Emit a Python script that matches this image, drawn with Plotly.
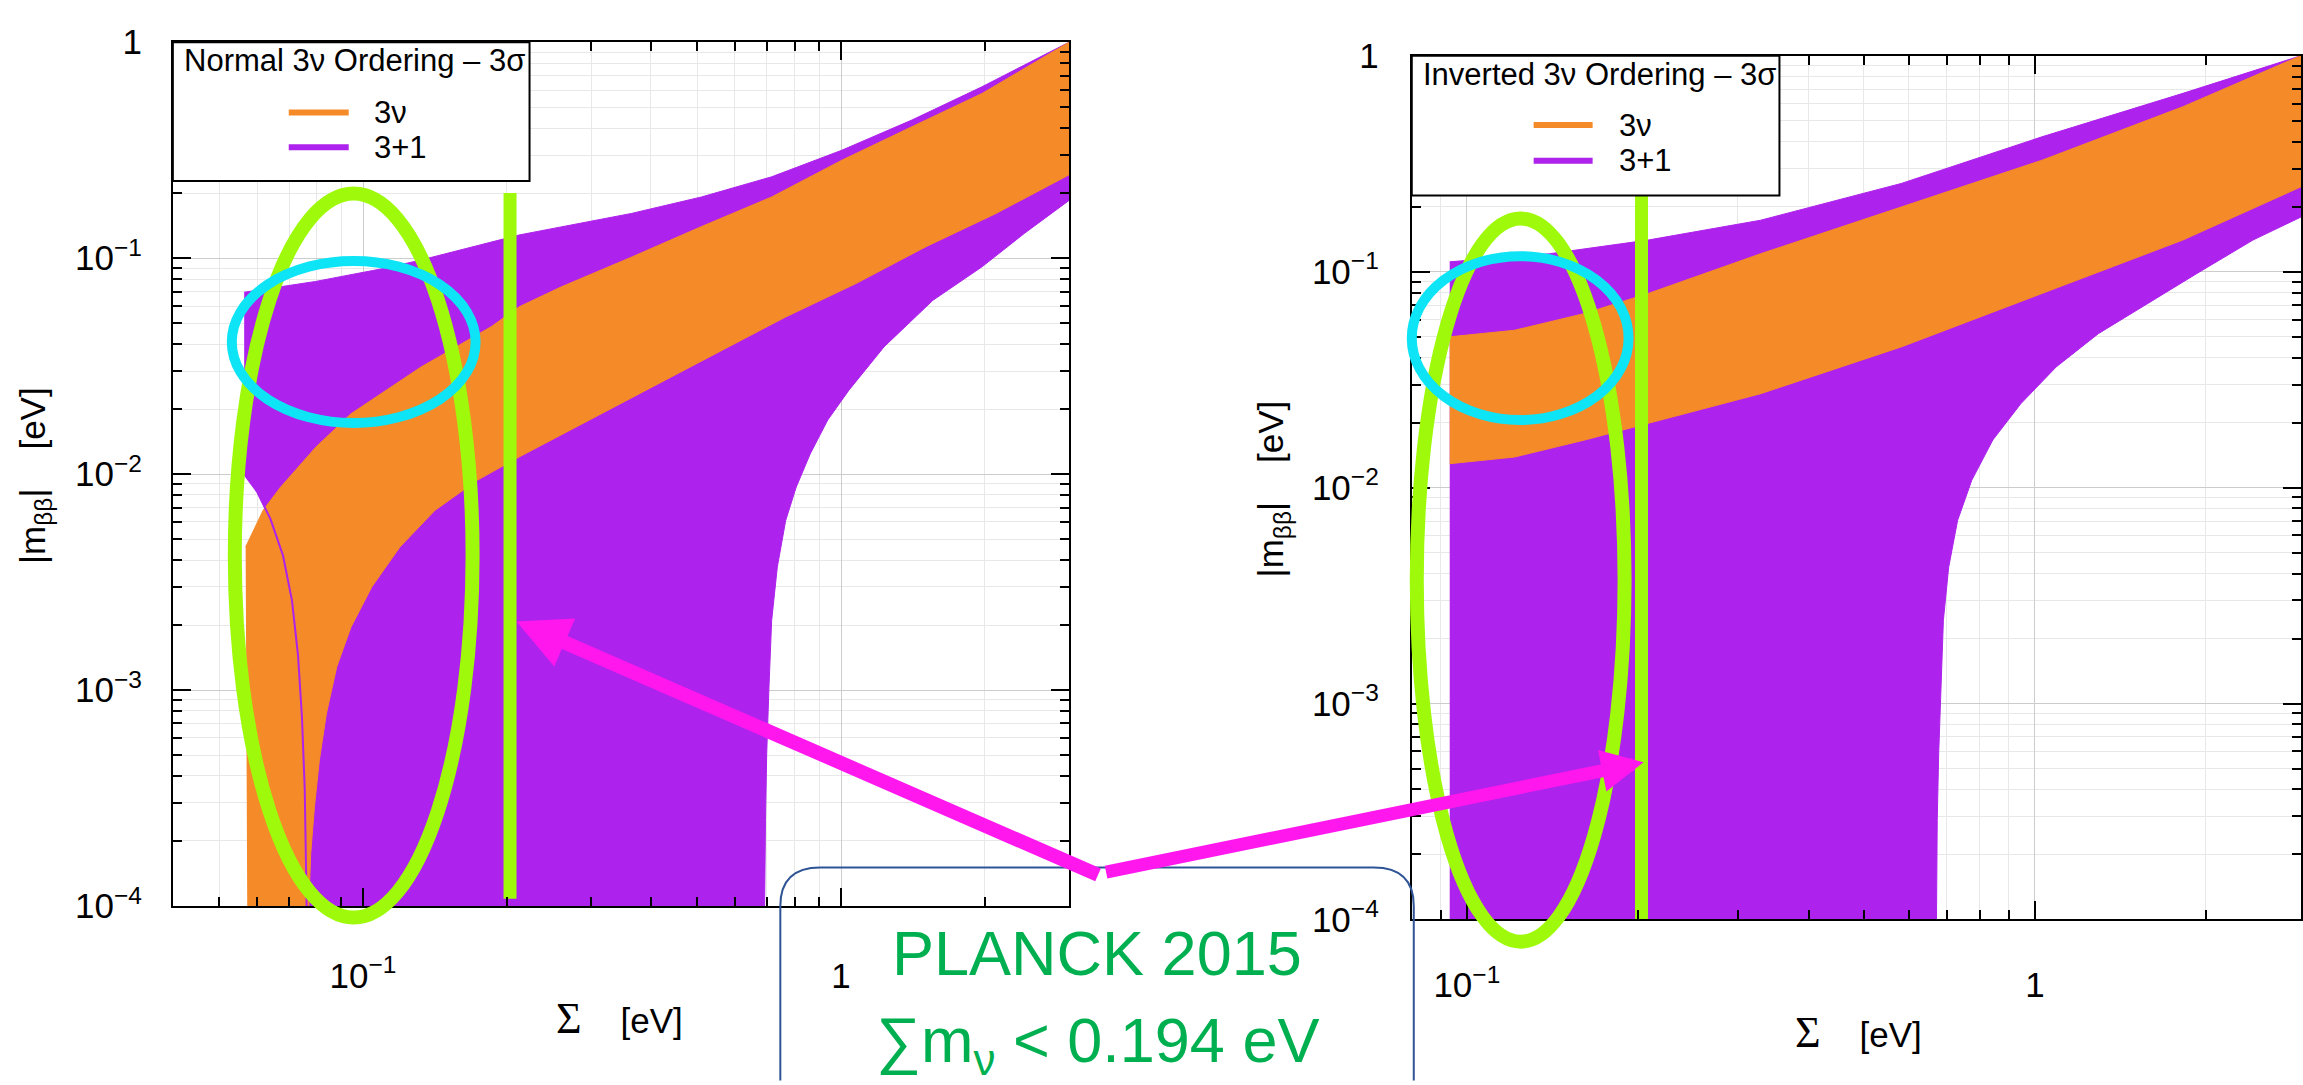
import math
import plotly.graph_objects as go

W, H = 2303, 1085

# ---------------- data ----------------
# Left panel: Normal 3nu ordering (Sigma [eV], |m_bb| [eV])
no_3p1_top_x = [0.0564, 0.0796, 0.1116, 0.1322, 0.2121, 0.3642, 0.5107, 0.716, 1.004, 1.407, 1.973, 3.0]
no_3p1_top_y = [0.0695, 0.078, 0.090, 0.098, 0.128, 0.161, 0.192, 0.238, 0.316, 0.436, 0.622, 1.0]
no_3p1_low_x = [0.692, 0.695, 0.699, 0.7067, 0.716, 0.7357, 0.766, 0.806, 0.862, 0.938, 1.038,
                1.23, 1.557, 1.973, 2.417, 3.0]
no_3p1_low_y = [1e-4, 2.49e-4, 5.06e-4, 1.03e-3, 2.1e-3, 3.71e-3, 0.0061, 0.00871, 0.0124, 0.0178, 0.0244,
                0.0388, 0.0638, 0.0912, 0.130, 0.185]
no_3p1_cut_x = [0.0564, 0.0600, 0.0640, 0.0680, 0.0710, 0.0731, 0.0745, 0.0755, 0.0762]
no_3p1_cut_y = [0.0100, 0.0083, 0.0062, 0.0042, 0.0026, 0.00145, 0.00075, 0.00035, 1e-4]

no_3nu_up_x = [0.0568, 0.0618, 0.0672, 0.0796, 0.0943, 0.1116, 0.1322, 0.1565, 0.1853, 0.2121,
               0.2599, 0.3642, 0.5107, 0.7161, 1.004, 1.407, 1.973, 3.0]
no_3nu_up_y = [0.00459, 0.0068, 0.0087, 0.0133, 0.019, 0.0244, 0.0313, 0.0388, 0.0481, 0.0595,
               0.0736, 0.101, 0.140, 0.192, 0.284, 0.406, 0.579, 1.0]
no_3nu_low_x = [0.0770, 0.0777, 0.0791, 0.0810, 0.0838, 0.0881, 0.0943, 0.1043, 0.1194, 0.1414, 0.1732,
                0.2121, 0.278, 0.3897, 0.5463, 0.766, 1.074, 1.506, 2.11, 3.0]
no_3nu_low_y = [1e-4, 1.74e-4, 2.86e-4, 4.71e-4, 7.76e-4, 1.28e-3, 1.95e-3, 3.0e-3, 0.00459, 0.00679, 0.00935,
                0.0120, 0.0165, 0.0244, 0.0361, 0.0534, 0.0762, 0.113, 0.161, 0.243]
no_3nu_left_x = 0.0575

# Right panel: Inverted 3nu ordering
io_3p1_top_x = [0.0933, 0.1398, 0.2085, 0.329, 0.5817, 1.029, 1.821, 2.94]
io_3p1_top_y = [0.111, 0.121, 0.140, 0.173, 0.256, 0.421, 0.669, 1.0]
io_3p1_low_x = [0.671, 0.673, 0.677, 0.6825, 0.690, 0.705, 0.731, 0.774, 0.843, 0.945, 1.090,
                1.293, 1.579, 1.928, 2.42, 2.94]
io_3p1_low_y = [1e-4, 2.87e-4, 5.85e-4, 1.19e-3, 2.43e-3, 4.28e-3, 7.05e-3, 0.0108, 0.0166, 0.0245, 0.0362,
                0.0516, 0.0711, 0.098, 0.140, 0.179]
io_3nu_x = [0.0933, 0.1213, 0.1612, 0.2085, 0.329, 0.5817, 1.029, 1.821, 2.94]
io_3nu_up_y = [0.0499, 0.0535, 0.064, 0.0792, 0.121, 0.1995, 0.328, 0.58, 1.0]
io_3nu_low_y = [0.0129, 0.01385, 0.0166, 0.0198, 0.0272, 0.0448, 0.0792, 0.140, 0.247]

# Planck 2015 limit line (as drawn)
planck_sigma = 0.203
planck_left_y = [0.20, 1.08e-4]
planck_right_y = [0.23, 1e-4]

# axis ticks
x_major = [0.1, 1]
x_major_text = ["10<sup>\u22121</sup>", "1"]
y_major = [1e-4, 1e-3, 1e-2, 1e-1, 1]
y_major_text = ["10<sup>\u22124</sup>", "10<sup>\u22123</sup>", "10<sup>\u22122</sup>", "10<sup>\u22121</sup>", "1"]

FLOOR = 1e-5
ORANGE = "#F58A28"
PURPLE = "#AD22EC"
LIME = "#9EFA0A"
CYAN = "#0DE4F5"
MAGENTA = "#FF17EE"
GREEN_TXT = "#00B050"
FONT = "Liberation Sans, Arial, sans-serif"

# ---------------- polygons ----------------
no_p_x = no_3p1_top_x + no_3p1_low_x[::-1] + [no_3p1_low_x[0], no_3p1_cut_x[-1]] + no_3p1_cut_x[::-1]
no_p_y = no_3p1_top_y + no_3p1_low_y[::-1] + [FLOOR, FLOOR] + no_3p1_cut_y[::-1]
no_o_x = no_3nu_up_x + no_3nu_low_x[::-1] + [no_3nu_low_x[0], no_3nu_left_x]
no_o_y = no_3nu_up_y + no_3nu_low_y[::-1] + [FLOOR, FLOOR]

io_p_x = io_3p1_top_x + io_3p1_low_x[::-1] + [io_3p1_low_x[0], io_3p1_top_x[0]]
io_p_y = io_3p1_top_y + io_3p1_low_y[::-1] + [FLOOR, FLOOR]
io_o_x = io_3nu_x + io_3nu_x[::-1]
io_o_y = io_3nu_up_y + io_3nu_low_y[::-1]

fig = go.Figure()


def band(x, y, color, xa, ya, name):
    fig.add_trace(go.Scatter(x=x, y=y, fill="toself", fillcolor=color, mode="lines",
                             line=dict(color=color, width=1), xaxis=xa, yaxis=ya,
                             name=name, showlegend=False, hoverinfo="skip"))


band(no_p_x, no_p_y, PURPLE, "x", "y", "3+1")
band(no_o_x, no_o_y, ORANGE, "x", "y", "3\u03bd")
fig.add_trace(go.Scatter(x=no_3p1_cut_x, y=no_3p1_cut_y, mode="lines", line=dict(color=PURPLE, width=2),
                         xaxis="x", yaxis="y", showlegend=False, hoverinfo="skip"))
band(io_p_x, io_p_y, PURPLE, "x2", "y2", "3+1")
band(io_o_x, io_o_y, ORANGE, "x2", "y2", "3\u03bd")

# Planck vertical lines
fig.add_trace(go.Scatter(x=[planck_sigma, planck_sigma], y=planck_left_y, mode="lines",
                         line=dict(color=LIME, width=13), xaxis="x", yaxis="y", showlegend=False))
fig.add_trace(go.Scatter(x=[planck_sigma, planck_sigma], y=planck_right_y, mode="lines",
                         line=dict(color=LIME, width=13), xaxis="x2", yaxis="y2", showlegend=False))


def minor_vals(lo_exp, hi_exp, lo, hi):
    vals = []
    for e in range(lo_exp, hi_exp + 1):
        for m in range(2, 10):
            v = m * 10 ** e
            if lo <= v <= hi:
                vals.append(v)
    return vals


def axis(domain, rng, tv, tt, minors, standoff):
    return dict(domain=domain, type="log", range=rng, tickmode="array", tickvals=tv, ticktext=tt,
                showline=True, linecolor="black", linewidth=2, mirror="allticks",
                ticks="inside", ticklen=18, tickwidth=1.5, tickcolor="black",
                showgrid=True, gridcolor="#cccccc", gridwidth=1, zeroline=False,
                ticklabelstandoff=standoff,
                tickfont=dict(family=FONT, size=35, color="black"),
                minor=dict(tickmode="array", tickvals=minors, ticks="inside", ticklen=9, tickwidth=1.5,
                           tickcolor="black", showgrid=True, gridcolor="#e8e8e8", gridwidth=1))


def px(v):
    return v / W


def py(v):
    return 1 - v / H


xl = axis([px(173), px(1070)], [math.log10(0.04), math.log10(3.0)], x_major, x_major_text,
          minor_vals(-2, 0, 0.04, 3.0), 38)
yl = axis([py(919), py(23)], [-4, 0], y_major, y_major_text, minor_vals(-4, -1, 1e-4, 1), 22)
xr = axis([px(1413), 1.0], [math.log10(0.08), math.log10(2.94)], x_major, x_major_text,
          minor_vals(-2, 0, 0.08, 2.94), 34)
yr = axis([py(933), py(37)], [-4, 0], y_major, y_major_text, minor_vals(-4, -1, 1e-4, 1), 24)
xl["anchor"] = "y"
yl["anchor"] = "x"
xr["anchor"] = "y2"
yr["anchor"] = "x2"

shapes = []
annotations = []

# legend boxes
for (bx0, by0, bx1, by1, tx, ty, title, lx0, lx1, ly1, ly2, ltx) in [
    (173, 23, 530, 167, 182, 42, "Normal 3\u03bd Ordering \u2013 3\u03c3", 289, 349, 96, 132, 372),
    (1413, 37, 1781, 182, 1422, 57, "Inverted 3\u03bd Ordering \u2013 3\u03c3", 1535, 1594, 109, 146, 1618),
]:
    shapes.append(dict(type="rect", xref="paper", yref="paper", x0=px(bx0), x1=px(bx1), y0=py(by1), y1=py(by0),
                       fillcolor="white", line=dict(color="black", width=2), layer="above"))
    shapes.append(dict(type="line", xref="paper", yref="paper", x0=px(lx0), x1=px(lx1), y0=py(ly1), y1=py(ly1),
                       line=dict(color=ORANGE, width=6), layer="above"))
    shapes.append(dict(type="line", xref="paper", yref="paper", x0=px(lx0), x1=px(lx1), y0=py(ly2), y1=py(ly2),
                       line=dict(color=PURPLE, width=6), layer="above"))
    annotations.append(dict(x=px(tx), y=py(ty), xref="paper", yref="paper", text=title, showarrow=False,
                            xanchor="left", yanchor="middle", font=dict(family=FONT, size=31, color="black")))
    annotations.append(dict(x=px(ltx), y=py(ly1), xref="paper", yref="paper", text="3\u03bd", showarrow=False,
                            xanchor="left", yanchor="middle", font=dict(family=FONT, size=31, color="black")))
    annotations.append(dict(x=px(ltx), y=py(ly2), xref="paper", yref="paper", text="3+1", showarrow=False,
                            xanchor="left", yanchor="middle", font=dict(family=FONT, size=31, color="black")))

# ellipses (hand-drawn highlights)
for (x0, x1, y0, y1, col, wd) in [
    (235, 473, 180, 931, LIME, 14),
    (232, 476, 250, 418, CYAN, 10),
    (1418, 1626, 206, 956, LIME, 14),
    (1413, 1630, 245, 415, CYAN, 10),
]:
    shapes.append(dict(type="circle", xref="paper", yref="paper", x0=px(x0), x1=px(x1), y0=py(y1), y1=py(y0),
                       line=dict(color=col, width=wd), layer="above"))

# Planck box (rounded, open at the bottom)
bx0, bx1, by0, by1, r = 781, 1415, 879, 1100, 40
path = (f"M {px(bx0)},{py(by1)} L {px(bx0)},{py(by0 + r)} Q {px(bx0)},{py(by0)} {px(bx0 + r)},{py(by0)} "
        f"L {px(bx1 - r)},{py(by0)} Q {px(bx1)},{py(by0)} {px(bx1)},{py(by0 + r)} L {px(bx1)},{py(by1)}")
shapes.append(dict(type="path", xref="paper", yref="paper", path=path,
                   line=dict(color="#2F5496", width=2), layer="above"))

# arrows
annotations.append(dict(x=px(517), y=py(624), xref="paper", yref="paper", ax=583, ay=254, text="",
                        showarrow=True, arrowhead=2, arrowsize=0.75, arrowwidth=14, arrowcolor=MAGENTA))
annotations.append(dict(x=px(1645), y=py(770), xref="paper", yref="paper", ax=-539, ay=110, text="",
                        showarrow=True, arrowhead=2, arrowsize=0.65, arrowwidth=13, arrowcolor=MAGENTA))

# Planck text
annotations.append(dict(x=px(1098), y=py(968), xref="paper", yref="paper", text="PLANCK 2015",
                        showarrow=False, xanchor="center", yanchor="middle",
                        font=dict(family=FONT, size=63, color=GREEN_TXT)))
annotations.append(dict(x=px(1098), y=py(1063), xref="paper", yref="paper",
                        text="\u2211m<sub>\u03bd</sub> &lt; 0.194 eV",
                        showarrow=False, xanchor="center", yanchor="middle",
                        font=dict(family=FONT, size=63, color=GREEN_TXT)))

# axis titles
SIG = "<span style=\"font-family:'Liberation Serif';font-size:44px\">\u03a3</span>"
for (x, y, t, ang) in [
    (620, 1036, SIG + "    [eV]", 0),
    (1860, 1050, SIG + "    [eV]", 0),
    (35, 472, "|m<sub>\u03b2\u03b2</sub>|    [eV]", -90),
    (1274, 486, "|m<sub>\u03b2\u03b2</sub>|    [eV]", -90),
]:
    annotations.append(dict(x=px(x), y=py(y), xref="paper", yref="paper", text=t, showarrow=False,
                            textangle=ang, xanchor="center", yanchor="middle",
                            font=dict(family=FONT, size=35, color="black")))

fig.update_layout(width=W, height=H, margin=dict(l=0, r=0, t=0, b=0),
                  paper_bgcolor="white", plot_bgcolor="white",
                  xaxis=xl, yaxis=yl, xaxis2=xr, yaxis2=yr,
                  shapes=shapes, annotations=annotations, showlegend=False)

fig.write_html("out.html", config={"displayModeBar": False},
               post_script="document.body.style.margin='0';document.body.style.overflow='hidden';")
